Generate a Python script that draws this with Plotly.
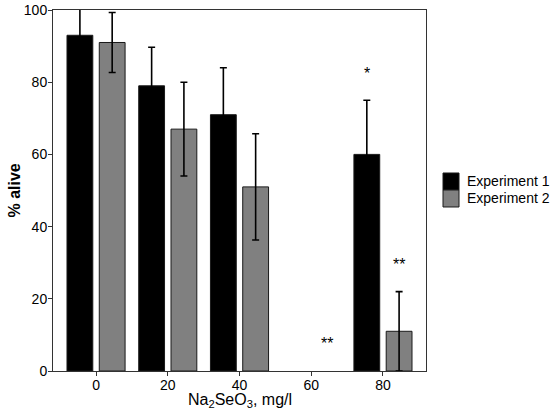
import plotly.graph_objects as go

# Na2SeO3 dose, mg/l
doses = [0, 20, 40, 60, 80]

# % alive, mean and error (no bars at 60 mg/l)
exp1_alive = [93, 79, 71, None, 60]
exp1_err = [8, 10.7, 13, None, 15]
exp2_alive = [91, 67, 51, None, 11]
exp2_err = [8.3, 13, 14.7, None, 11]

# significance marks drawn above each bar
exp1_sig = ["", "", "", "", "*"]
exp2_sig = ["", "", "", "**", "**"]

series_names = ["Experiment 1", "Experiment 2"]
series_colors = ["#000000", "#808080"]

fig = go.Figure()

for name, vals, errs, col in zip(series_names, [exp1_alive, exp2_alive],
                                 [exp1_err, exp2_err], series_colors):
    fig.add_trace(go.Bar(
        x=doses,
        y=vals,
        name=name,
        marker=dict(color=col, line=dict(color="#1a1a1a", width=1)),
        error_y=dict(type="data", array=errs, visible=True,
                     color="black", thickness=1.6, width=3.5),
        showlegend=False,
    ))

# asterisks, placed a bit above the top of each error bar
half_slot = 4.5
for side, vals, errs, sigs in [(-1, exp1_alive, exp1_err, exp1_sig),
                               (1, exp2_alive, exp2_err, exp2_sig)]:
    for d, v, e, s in zip(doses, vals, errs, sigs):
        if not s:
            continue
        top = (v or 0) + (e or 0)
        fig.add_annotation(x=d + side * half_slot, y=top + 7.5, text=s,
                           showarrow=False, yanchor="middle",
                           font=dict(size=16, color="black"))

# hand-made legend with square keys that touch each other
key_top = [0.5485, 0.5014]
key_h = 0.0471
for name, col, yt in zip(series_names, series_colors, key_top):
    fig.add_shape(type="rect", xref="paper", yref="paper",
                  x0=1.0456, x1=1.0885, y0=yt - key_h, y1=yt,
                  fillcolor=col, line=dict(color="#1a1a1a", width=1))
    fig.add_annotation(xref="paper", yref="paper", x=1.1046,
                       y=yt - key_h / 2, text=name, showarrow=False,
                       xanchor="left", yanchor="middle",
                       font=dict(size=14, color="black"))

# axis titles
fig.add_annotation(xref="paper", yref="paper", x=0.5, y=0, yshift=-29,
                   text="Na<sub>2</sub>SeO<sub>3</sub>, mg/l",
                   showarrow=False, yanchor="middle",
                   font=dict(size=16, color="black"))
fig.add_annotation(xref="paper", yref="paper", x=0, y=0.5, xshift=-39,
                   text="<b>% alive</b>", textangle=-90,
                   showarrow=False, xanchor="center",
                   font=dict(size=16, color="black"))

axis_style = dict(
    showline=True, linecolor="#333333", linewidth=1, mirror=True,
    ticks="outside", ticklen=4, tickcolor="#333333",
    showgrid=False, zeroline=False, automargin=False,
    tickfont=dict(size=14, color="black"),
)

fig.update_xaxes(range=[-12, 92], tickvals=doses, ticklabelstandoff=-3,
                 **axis_style)
fig.update_yaxes(range=[0, 100], tickvals=[0, 20, 40, 60, 80, 100],
                 ticklabelstandoff=-2, **axis_style)

fig.update_layout(
    width=550, height=415,
    barmode="group", bargap=0.1, bargroupgap=0.2,
    font=dict(family="Liberation Sans, Arial", color="black"),
    paper_bgcolor="white", plot_bgcolor="white",
    margin=dict(l=53, r=124, t=10, b=44),
)

# drop the default page margin so the figure sits at the window corner
fig.write_html("out.html", config={"displayModeBar": False},
               post_script="document.body.style.margin='0';")
